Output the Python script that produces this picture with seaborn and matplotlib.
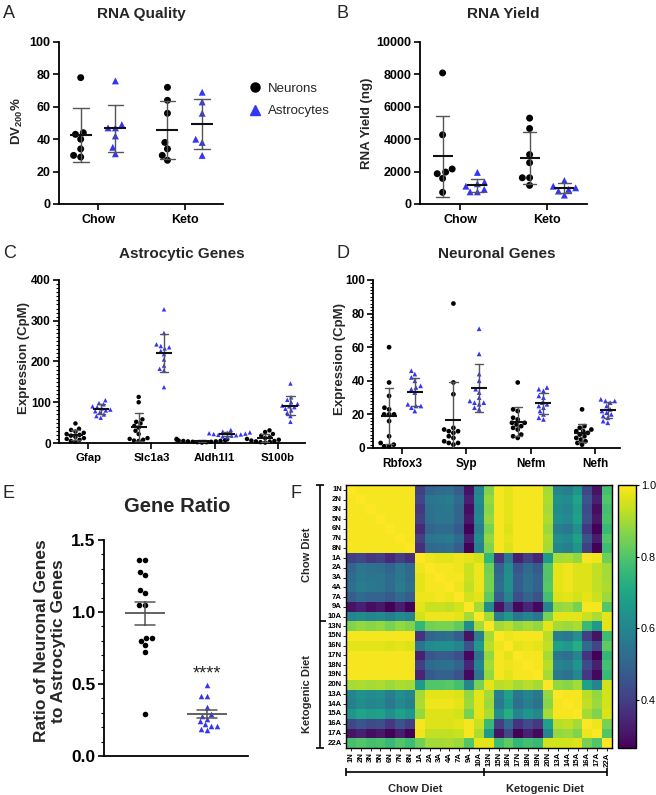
import numpy as np
import pandas as pd
import matplotlib
matplotlib.use('Agg')
import matplotlib.pyplot as plt
import seaborn as sns
from matplotlib.lines import Line2D
from matplotlib.ticker import MultipleLocator
import warnings
warnings.filterwarnings('ignore')

sns.set_theme(style='ticks')
plt.rcParams['font.family'] = ['Liberation Sans', 'DejaVu Sans']
plt.rcParams['font.weight'] = 'bold'
plt.rcParams['axes.labelweight'] = 'bold'
plt.rcParams['mathtext.fontset'] = 'custom'
plt.rcParams['mathtext.rm'] = 'Liberation Sans:bold'
plt.rcParams['mathtext.bf'] = 'Liberation Sans:bold'

BLACK = '#000000'
BLUE = '#3535f5'
BAR = '#555555'
MEAN = '#111111'
CELLS = ['Neurons', 'Astrocytes']
DIETS = ['Chow', 'Keto']

# ---------------- Panel A: RNA quality (DV200 %) ----------------
quality_chow_neurons = [78, 44, 43, 40, 34, 29, 30]
quality_chow_astro = [76, 49, 47, 47, 42, 35, 31]
quality_keto_neurons = [72, 64, 56, 38, 34, 30, 27]
quality_keto_astro = [69, 63, 56, 40, 38, 30]

# ---------------- Panel B: RNA yield (ng) ----------------
yield_chow_neurons = [8090, 4270, 2160, 1970, 1870, 1580, 720]
yield_chow_astro = [1950, 1350, 1250, 1100, 900, 750, 750]
yield_keto_neurons = [5300, 4660, 3050, 2550, 1620, 1620, 1150]
yield_keto_astro = [1450, 1100, 1000, 900, 800, 550]

# ---------------- Panel C: astrocytic genes (CpM) ----------------
astro_genes = ['Gfap', 'Slc1a3', 'Aldh1l1', 'S100b']
gfap_neurons = [48, 35, 32, 28, 25, 22, 20, 18, 15, 12, 10, 8, 5, 3]
gfap_astro = [105, 98, 95, 90, 88, 85, 82, 80, 78, 75, 70, 66, 62]
slc1a3_neurons = [113, 100, 58, 52, 48, 42, 38, 30, 22, 12, 10, 8, 6, 5]
slc1a3_astro = [328, 270, 242, 238, 235, 232, 226, 218, 205, 190, 182, 178, 137]
aldh1l1_neurons = [10, 9, 8, 7, 6, 5, 5, 4, 4, 3, 3, 2, 2, 1]
aldh1l1_astro = [32, 28, 26, 25, 24, 23, 22, 21, 20, 19, 18, 16, 14]
s100b_neurons = [31, 27, 22, 18, 14, 12, 10, 8, 6, 5, 4, 3, 2, 1]
s100b_astro = [146, 112, 106, 100, 96, 92, 90, 88, 84, 80, 74, 66, 52]

# ---------------- Panel D: neuronal genes (CpM) ----------------
neuro_genes = ['Rbfox3', 'Syp', 'Nefm', 'Nefh']
rbfox3_neurons = [60, 39, 31, 24, 23, 20, 20, 20, 16, 7, 3, 2, 1, 1]
rbfox3_astro = [46, 44, 42, 40, 37, 36, 35, 33, 26, 25, 25, 24, 22]
syp_neurons = [86, 39, 32, 12, 11, 10, 10, 9, 7, 6, 4, 3, 3, 2]
syp_astro = [71, 56, 44, 40, 35, 33, 30, 28, 27, 27, 26, 24, 23]
nefm_neurons = [39, 23, 22, 18, 17, 15, 15, 14, 13, 12, 11, 8, 7, 6]
nefm_astro = [36, 35, 34, 31, 30, 27, 26, 25, 24, 22, 20, 18, 17]
nefh_neurons = [23, 13, 12, 11, 10, 10, 9, 8, 7, 6, 5, 4, 3, 2]
nefh_astro = [29, 28, 28, 27, 25, 23, 22, 21, 20, 19, 18, 16, 15]

# ---------------- Panel E: gene ratio ----------------
ratio_neurons = [1.36, 1.36, 1.28, 1.26, 1.15, 1.13, 1.05, 1.05, 0.82, 0.82, 0.80, 0.77, 0.72, 0.29]
ratio_astro = [0.49, 0.42, 0.42, 0.34, 0.29, 0.28, 0.26, 0.24, 0.22, 0.21, 0.21, 0.19, 0.18]

# ---------------- Panel F: sample correlation (percent, lower triangle) ----------------
sample_labels = ['1N', '2N', '3N', '5N', '6N', '7N', '8N',
                 '1A', '2A', '3A', '4A', '7A', '9A', '10A',
                 '13N', '15N', '16N', '17N', '18N', '19N', '20N',
                 '13A', '14A', '15A', '16A', '17A', '22A']
corr_lower = [
    [100],
    [99, 100],
    [99, 99, 100],
    [99, 99, 99, 100],
    [99, 99, 99, 99, 100],
    [99, 99, 99, 99, 99, 100],
    [99, 99, 99, 99, 99, 99, 100],
    [40, 42, 38, 40, 35, 40, 36, 100],
    [50, 55, 54, 53, 50, 55, 51, 98, 100],
    [52, 56, 55, 55, 52, 56, 52, 97, 99, 100],
    [53, 57, 56, 55, 52, 57, 53, 97, 99, 99, 100],
    [48, 52, 50, 50, 47, 52, 48, 98, 98, 99, 98, 100],
    [30, 33, 29, 31, 27, 32, 27, 97, 94, 94, 93, 95, 100],
    [60, 62, 60, 61, 58, 62, 59, 95, 98, 98, 98, 97, 90, 100],
    [86, 88, 87, 88, 85, 88, 86, 75, 84, 85, 85, 82, 62, 90, 100],
    [99, 99, 99, 99, 99, 99, 99, 37, 50, 52, 53, 48, 30, 58, 90, 100],
    [97, 97, 97, 97, 96, 97, 96, 55, 62, 63, 63, 60, 45, 66, 92, 98, 100],
    [99, 99, 99, 99, 99, 99, 99, 33, 46, 48, 48, 44, 28, 55, 88, 99, 97, 100],
    [99, 99, 99, 99, 99, 99, 99, 40, 52, 53, 54, 50, 34, 60, 90, 99, 98, 99, 100],
    [99, 99, 99, 99, 99, 99, 99, 34, 47, 49, 49, 45, 28, 55, 88, 99, 97, 99, 99, 100],
    [90, 91, 90, 91, 89, 91, 90, 66, 80, 80, 81, 78, 60, 85, 97, 92, 93, 90, 92, 90, 100],
    [60, 64, 62, 63, 58, 63, 60, 90, 97, 97, 97, 96, 88, 97, 90, 58, 68, 55, 60, 56, 88, 100],
    [58, 62, 60, 61, 56, 61, 58, 91, 98, 98, 98, 97, 89, 97, 89, 56, 66, 53, 58, 54, 87, 99, 100],
    [65, 69, 67, 68, 63, 68, 65, 88, 96, 96, 96, 95, 85, 97, 91, 63, 72, 60, 65, 61, 90, 99, 99, 100],
    [42, 46, 43, 44, 38, 45, 40, 99, 96, 96, 96, 97, 99, 94, 76, 40, 52, 37, 43, 38, 68, 92, 93, 90, 100],
    [30, 33, 29, 31, 27, 32, 27, 98, 93, 93, 93, 94, 99, 91, 66, 30, 42, 27, 33, 28, 60, 88, 89, 86, 98, 100],
    [78, 80, 78, 79, 76, 80, 77, 84, 90, 90, 91, 89, 80, 97, 97, 77, 82, 75, 78, 76, 95, 95, 95, 96, 85, 80, 100],
]

# =====================================================================
W, H = 656, 795
fig = plt.figure(figsize=(W / 100, H / 100), dpi=100)


def add_ax(l, t, r, b):
    return fig.add_axes([l / W, 1 - b / H, (r - l) / W, (b - t) / H])


def to_long(cats, neuron_lists, astro_lists):
    rows = []
    for c, nv, av in zip(cats, neuron_lists, astro_lists):
        rows += [(c, 'Neurons', v) for v in nv]
        rows += [(c, 'Astrocytes', v) for v in av]
    return pd.DataFrame(rows, columns=['cat', 'cell', 'val'])


def dot_panel(ax, df, order, size, mean_len, cap, errorbar='sd'):
    for cell, mk, col in (('Neurons', 'o', BLACK), ('Astrocytes', '^', BLUE)):
        sns.swarmplot(data=df[df.cell == cell], x='cat', y='val', hue='cell',
                      order=order, hue_order=CELLS, dodge=True,
                      palette={c: col for c in CELLS}, marker=mk, size=size,
                      linewidth=0, legend=False, ax=ax)
    sns.pointplot(data=df, x='cat', y='val', hue='cell', order=order, hue_order=CELLS,
                  dodge=0.4, errorbar=errorbar, capsize=cap, markers='', linestyles='none',
                  palette={c: BAR for c in CELLS}, err_kws={'linewidth': 1.0, 'zorder': 4},
                  legend=False, ax=ax)
    sns.pointplot(data=df, x='cat', y='val', hue='cell', order=order, hue_order=CELLS,
                  dodge=0.4, errorbar=None, markers='_', linestyles='none',
                  markersize=mean_len, markeredgewidth=1.5, zorder=5,
                  palette={c: MEAN for c in CELLS}, legend=False, ax=ax)
    for c in ax.collections:
        c.set_clip_on(False)


def style(ax, xlim, ylim, major, minor=None, labelsize=8.5, xlabelsize=8.5):
    ax.set_xlim(*xlim)
    ax.set_ylim(*ylim)
    ax.yaxis.set_major_locator(MultipleLocator(major))
    if minor:
        ax.yaxis.set_minor_locator(MultipleLocator(minor))
    sns.despine(ax=ax)
    for s in ('left', 'bottom'):
        ax.spines[s].set_linewidth(1.3)
        ax.spines[s].set_color('black')
    ax.tick_params(axis='y', which='major', length=4, width=1.2, labelsize=labelsize, pad=2, colors='black')
    ax.tick_params(axis='x', which='major', length=4, width=1.2, labelsize=xlabelsize, pad=3, colors='black')
    ax.tick_params(axis='y', which='minor', length=2.2, width=0.8, colors='black')
    ax.set_xlabel('')
    ax.set_ylabel('')


def ftext(x, y, s, **kw):
    return fig.text(x / W, 1 - y / H, s, **kw)


# ---------------- A ----------------
axA = add_ax(59, 42, 223, 204)
dfA = to_long(DIETS, [quality_chow_neurons, quality_keto_neurons], [quality_chow_astro, quality_keto_astro])
dot_panel(axA, dfA, DIETS, size=5, mean_len=16, cap=0.18)
style(axA, (-0.45, 1.44), (0, 100), 20, labelsize=9, xlabelsize=9)

# ---------------- B ----------------
axB = add_ax(420, 42, 587, 204)
dfB = to_long(DIETS, [yield_chow_neurons, yield_keto_neurons], [yield_chow_astro, yield_keto_astro])
dot_panel(axB, dfB, DIETS, size=5, mean_len=15, cap=0.15)
style(axB, (-0.46, 1.46), (0, 10000), 2000, labelsize=9, xlabelsize=9)

# ---------------- C ----------------
axC = add_ax(59, 280, 305, 443)
dfC = to_long(astro_genes,
              [gfap_neurons, slc1a3_neurons, aldh1l1_neurons, s100b_neurons],
              [gfap_astro, slc1a3_astro, aldh1l1_astro, s100b_astro])
dot_panel(axC, dfC, astro_genes, size=3.2, mean_len=12, cap=0.13)
style(axC, (-0.46, 3.43), (0, 400), 100, minor=10, labelsize=8.5, xlabelsize=8.2)

# ---------------- D ----------------
axD = add_ax(373, 280, 620, 448)
dfD = to_long(neuro_genes,
              [rbfox3_neurons, syp_neurons, nefm_neurons, nefh_neurons],
              [rbfox3_astro, syp_astro, nefm_astro, nefh_astro])
dot_panel(axD, dfD, neuro_genes, size=3.4, mean_len=12, cap=0.13)
style(axD, (-0.45, 3.39), (0, 100), 20, minor=2, labelsize=8.5, xlabelsize=8.5)

# ---------------- E ----------------
axE = add_ax(104, 540, 248, 756)
dfE = pd.DataFrame({'cell': ['Neurons'] * len(ratio_neurons) + ['Astrocytes'] * len(ratio_astro),
                    'val': ratio_neurons + ratio_astro})
for cell, mk, col in (('Neurons', 'o', BLACK), ('Astrocytes', '^', BLUE)):
    sns.swarmplot(data=dfE[dfE.cell == cell], x='cell', y='val', order=CELLS, color=col,
                  marker=mk, size=4.0, linewidth=0, ax=axE)
sns.pointplot(data=dfE, x='cell', y='val', order=CELLS, errorbar='se', capsize=0.33,
              markers='', linestyles='none', color=BAR, err_kws={'linewidth': 1.1, 'zorder': 4}, ax=axE)
sns.pointplot(data=dfE, x='cell', y='val', order=CELLS, errorbar=None, markers='_',
              linestyles='none', markersize=29, markeredgewidth=1.3, zorder=5, color=BAR, ax=axE)
style(axE, (-0.66, 1.66), (0, 1.5), 0.5, minor=0.1, labelsize=12.5)
axE.set_xticks([])
axE.text(1, 0.535, '****', ha='center', va='baseline', fontsize=13, fontweight='normal')

# ---------------- F ----------------
n = len(sample_labels)
mat = np.zeros((n, n))
for i, row in enumerate(corr_lower):
    for j, v in enumerate(row):
        mat[i, j] = v / 100.0
        mat[j, i] = v / 100.0
corr = pd.DataFrame(mat, index=sample_labels, columns=sample_labels)
axF = add_ax(346, 485, 612, 748)
cax = add_ax(618, 485, 636, 748)
sns.heatmap(corr, ax=axF, cbar_ax=cax, cmap='viridis', vmin=0.265, vmax=1.0,
            xticklabels=True, yticklabels=True)
axF.tick_params(axis='both', labelsize=5.6, length=2, width=0.6, pad=1, colors='black')
axF.set_xticklabels(sample_labels, rotation=90)
axF.set_yticklabels(sample_labels, rotation=0)
axF.set_xlabel('')
axF.set_ylabel('')
for sp in axF.spines.values():
    sp.set_visible(True)
    sp.set_linewidth(1.0)
    sp.set_color('black')
cbar = axF.collections[0].colorbar
cbar.set_ticks([0.4, 0.6, 0.8, 1.0])
cbar.ax.tick_params(labelsize=7.8, length=2.5, width=0.8, pad=1, colors='black')
for t in cbar.ax.get_yticklabels():
    t.set_fontweight('normal')
cbar.outline.set_linewidth(1.0)
cbar.outline.set_edgecolor('black')

# group brackets
bk = dict(color='black', lw=1.2, clip_on=False, solid_capstyle='butt')
xl = -2.64
axF.plot([xl, xl], [0, 27], **bk)
for yy in (0, 27):
    axF.plot([xl - 0.4, xl + 0.4], [yy, yy], **bk)
axF.plot([xl, xl + 0.6], [14, 14], **bk)
yb = 29.5
axF.plot([0, 26.5], [yb, yb], **bk)
for xx in (0, 14, 26.5):
    axF.plot([xx, xx], [yb - 0.4, yb + 0.4], **bk)
axF.text(7, 31.2, 'Chow Diet', ha='center', va='center', fontsize=8, clip_on=False)
axF.text(20.25, 31.2, 'Ketogenic Diet', ha='center', va='center', fontsize=8, clip_on=False)
axF.text(-3.95, 7.2, 'Chow Diet', rotation=90, ha='center', va='center', fontsize=8, clip_on=False)
axF.text(-3.95, 21.5, 'Ketogenic Diet', rotation=90, ha='center', va='center', fontsize=8, clip_on=False)

# ---------------- legend ----------------
handles = [Line2D([], [], marker='o', ls='none', color=BLACK, markersize=6.5, label='Neurons'),
           Line2D([], [], marker='^', ls='none', color=BLUE, markersize=6.5, label='Astrocytes')]
fig.legend(handles=handles, loc='center left', bbox_to_anchor=(248 / W, 1 - 100 / H),
           frameon=False, prop={'weight': 'normal', 'size': 9.5}, handlelength=1.0,
           handletextpad=0.5, labelspacing=0.75, borderpad=0, borderaxespad=0)

# ---------------- titles, labels, panel letters ----------------
tkw = dict(ha='center', va='center', fontweight='bold')
ftext(141, 14, 'RNA Quality', fontsize=11, **tkw)
ftext(503, 14, 'RNA Yield', fontsize=11, **tkw)
ftext(182, 254, 'Astrocytic Genes', fontsize=11, **tkw)
ftext(497, 254, 'Neuronal Genes', fontsize=11, **tkw)
ftext(177, 507, 'Gene Ratio', fontsize=14.5, **tkw)

lkw = dict(ha='center', va='center', rotation=90, fontweight='bold')
ftext(17, 121, r'DV$_{\mathbf{200}}$%', fontsize=9.5, **lkw)
ftext(367, 123, 'RNA Yield (ng)', fontsize=9.5, **lkw)
ftext(24, 358, 'Expression (CpM)', fontsize=9.5, **lkw)
ftext(340, 359, 'Expression (CpM)', fontsize=9.5, **lkw)
ftext(50, 641, 'Ratio of Neuronal Genes\nto Astrocytic Genes', fontsize=12.5, linespacing=1.1, **lkw)

pkw = dict(ha='left', va='center', fontsize=13, fontweight='normal')
ftext(3, 14, 'A', **pkw)
ftext(337, 13, 'B', **pkw)
ftext(3, 253, 'C', **pkw)
ftext(336, 254, 'D', **pkw)
ftext(3, 493, 'E', **pkw)
ftext(291, 493, 'F', **pkw)

fig.savefig('out.png', dpi=100)
